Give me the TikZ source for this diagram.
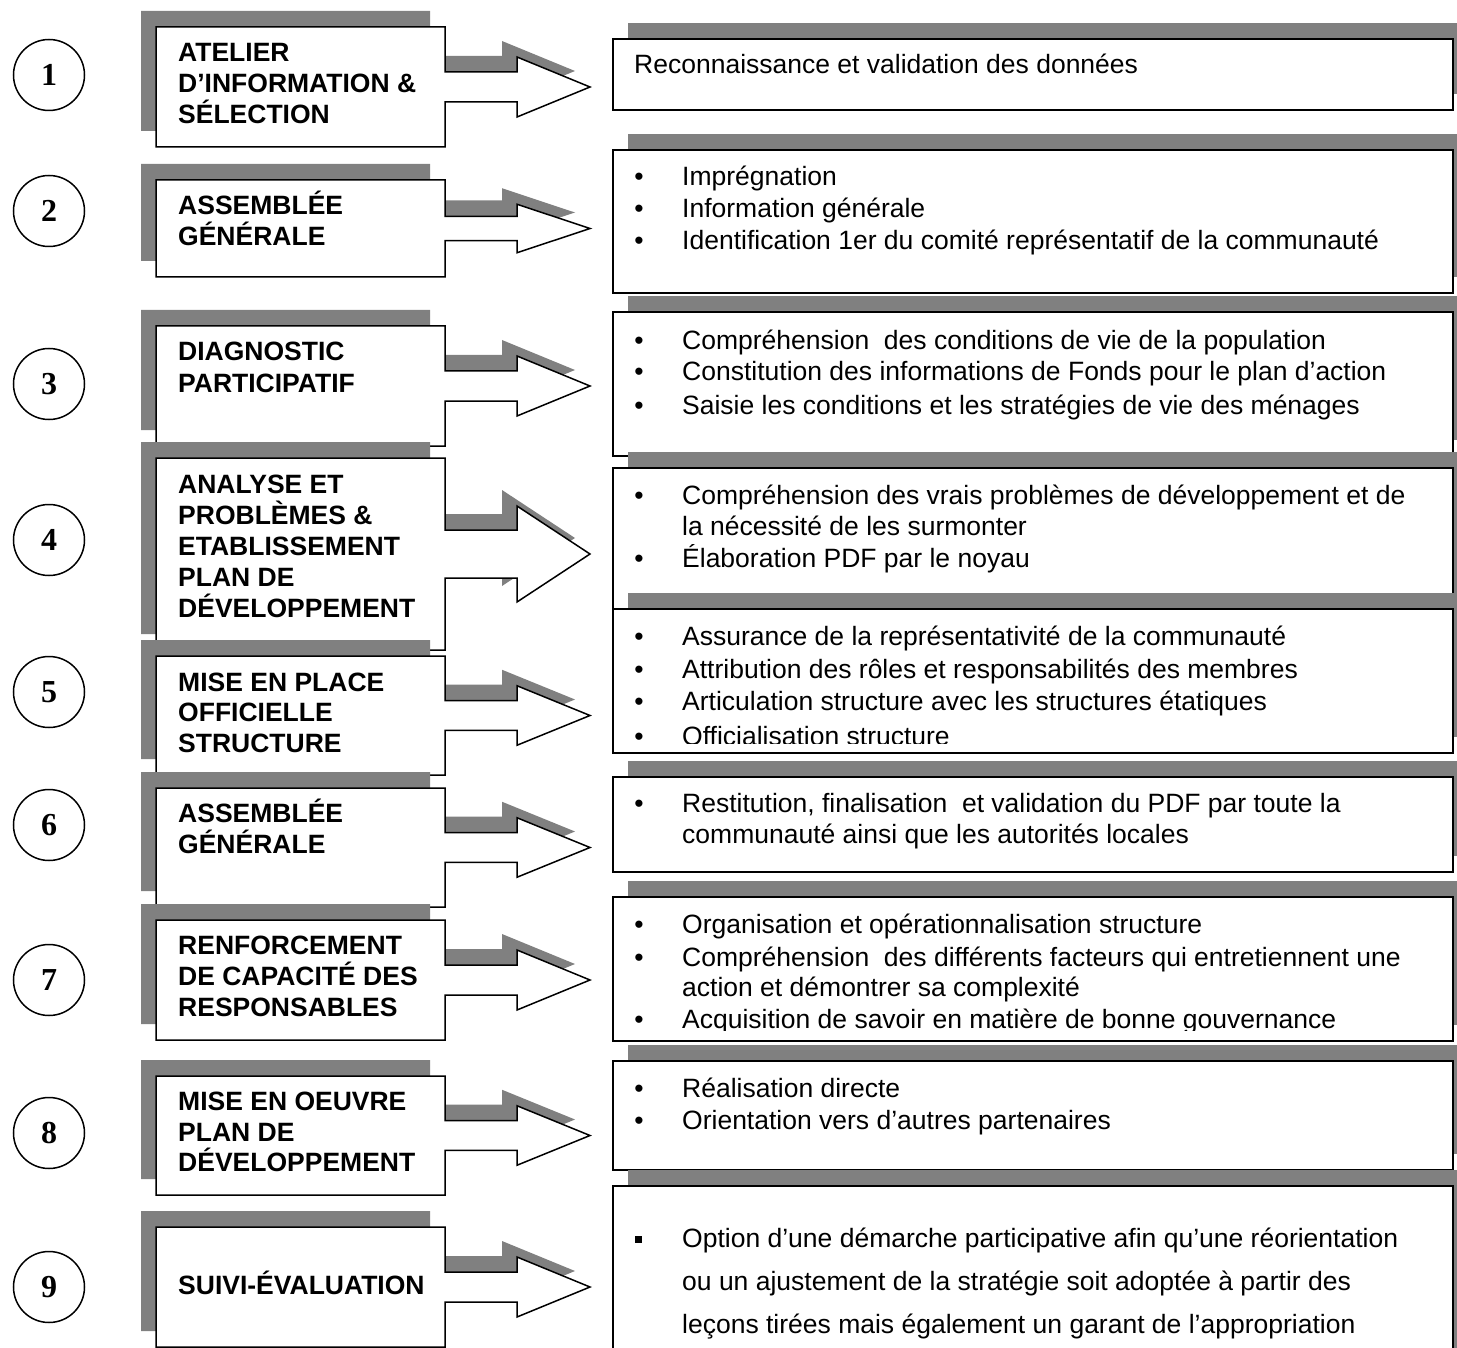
\documentclass[tikz,border=0pt]{standalone}
\usepackage{fontspec}
\setmainfont{Liberation Sans}
\newfontfamily\numfont{Liberation Serif}
\definecolor{shadowgray}{RGB}{128,128,128}
\tikzset{
  shadefill/.style={fill=shadowgray,draw=none},
  whitebox/.style={fill=white,draw=black,line width=1.5pt,line join=miter},
  ltxt/.style={anchor=base west,inner sep=0pt,font=\bfseries\fontsize{26.5}{31}\selectfont},
  rtxt/.style={anchor=base west,inner sep=0pt,font=\fontsize{26.5}{32}\selectfont},
  bul/.style={anchor=base,inner sep=0pt,font=\fontsize{26.5}{32}\selectfont},
  numc/.style={circle,draw=black,line width=1.5pt,minimum size=71pt,inner sep=0pt,
    font=\numfont\bfseries\fontsize{32}{32}\selectfont}
}
\newcommand\myLshape[2]{%
  \pgfmathsetmacro\Lm{#1+#2/2}%
  \pgfmathsetmacro\La{\Lm-#2/8}%
  \pgfmathsetmacro\Lb{\Lm+#2/8}%
  \pgfmathsetmacro\Lc{\Lm-#2/4}%
  \pgfmathsetmacro\Ld{\Lm+#2/4}%
  \pgfmathsetmacro\Le{#1+#2}%
  \path[shadefill,shift={(-15,-16)}] (156,#1) -- (445,#1) -- (445,\La) -- (517,\La) -- (517,\Lc) -- (590,\Lm) -- (517,\Ld) -- (517,\Lb) -- (445,\Lb) -- (445,\Le) -- (156,\Le) -- cycle;
  \path[whitebox] (156,#1) -- (445,#1) -- (445,\La) -- (517,\La) -- (517,\Lc) -- (590,\Lm) -- (517,\Ld) -- (517,\Lb) -- (445,\Lb) -- (445,\Le) -- (156,\Le) -- cycle;
}
\newcommand\myRbox[2]{%
  \pgfmathsetmacro\Ra{#1-16}%
  \pgfmathsetmacro\Rb{#2-16}%
  \path[shadefill] (628,\Ra) rectangle (1468,\Rb);
  \path[whitebox] (613,#1) rectangle (1453,#2);
}
\begin{document}
\begin{tikzpicture}[x=1pt,y=-1pt]
\useasboundingbox (0,0) rectangle (1457,1348);
\clip (0,0) rectangle (1457,1348);
\fill[white] (0,0) rectangle (1457,1348);

% ---------- numbered circles ----------
\node[numc] (c1) at (49,75) {1};
\node[numc] (c2) at (49,211) {2};
\node[numc] (c3) at (49,384) {3};
\node[numc] (c4) at (49,540) {4};
\node[numc] (c5) at (49,692) {5};
\node[numc] (c6) at (49,825) {6};
\node[numc] (c7) at (49,980) {7};
\node[numc] (c8) at (49,1133) {8};
\node[numc] (c9) at (49,1287) {9};

% ---------- left step shapes ----------
\myLshape{27}{120}
\node[ltxt] (l1a) at (178,62) {ATELIER};
\node[ltxt] (l1b) at (178,93) {D’INFORMATION \&};
\node[ltxt] (l1c) at (178,124) {SÉLECTION};

\myLshape{180}{97}
\node[ltxt] (l2a) at (178,215) {ASSEMBLÉE};
\node[ltxt] (l2b) at (178,246) {GÉNÉRALE};

\myLshape{326}{120}
\node[ltxt] (l3a) at (178,361) {DIAGNOSTIC};
\node[ltxt] (l3b) at (178,392) {PARTICIPATIF};

\myLshape{458}{192}
\node[ltxt] (l4a) at (178,493) {ANALYSE ET};
\node[ltxt] (l4b) at (178,524) {PROBLÈMES \&};
\node[ltxt] (l4c) at (178,555) {ETABLISSEMENT};
\node[ltxt] (l4d) at (178,586) {PLAN DE};
\node[ltxt] (l4e) at (178,617) {DÉVELOPPEMENT};

\myLshape{656}{119}
\node[ltxt] (l5a) at (178,691) {MISE EN PLACE};
\node[ltxt] (l5b) at (178,721.5) {OFFICIELLE};
\node[ltxt] (l5c) at (178,752) {STRUCTURE};

\myLshape{788}{119}
\node[ltxt] (l6a) at (178,822.5) {ASSEMBLÉE};
\node[ltxt] (l6b) at (178,853) {GÉNÉRALE};

\myLshape{920}{120}
\node[ltxt] (l7a) at (178,954.5) {RENFORCEMENT};
\node[ltxt] (l7b) at (178,985.5) {DE CAPACITÉ DES};
\node[ltxt] (l7c) at (178,1016.5) {RESPONSABLES};

\myLshape{1076}{119}
\node[ltxt] (l8a) at (178,1110.5) {MISE EN OEUVRE};
\node[ltxt] (l8b) at (178,1141.5) {PLAN DE};
\node[ltxt] (l8c) at (178,1171.5) {DÉVELOPPEMENT};

\myLshape{1227}{120}
\node[ltxt] (l9a) at (178,1294.5) {SUIVI-ÉVALUATION};

% ---------- right boxes ----------
\myRbox{39}{110}
\node[rtxt] (r1a) at (634,74) {Reconnaissance et validation des données};

\myRbox{150}{293}
\node[bul] (r2ab) at (639,186) {•};
\node[rtxt] (r2a) at (682,186) {Imprégnation};
\node[bul] (r2bb) at (639,218) {•};
\node[rtxt] (r2b) at (682,218) {Information générale};
\node[bul] (r2cb) at (639,250) {•};
\node[rtxt] (r2c) at (682,250) {Identification 1er du comité représentatif de la communauté};

\myRbox{312}{456}
\node[bul] (r3ab) at (639,349) {•};
\node[rtxt] (r3a) at (682,349) {Compréhension \ des conditions de vie de la population};
\node[bul] (r3bb) at (639,381) {•};
\node[rtxt] (r3b) at (682,381) {Constitution des informations de Fonds pour le plan d’action};
\node[bul] (r3cb) at (639,414) {•};
\node[rtxt] (r3c) at (682,414) {Saisie les conditions et les stratégies de vie des ménages};

\myRbox{468}{609}
\node[bul] (r4ab) at (639,504) {•};
\node[rtxt] (r4a) at (682,504) {Compréhension des vrais problèmes de développement et de};
\node[rtxt] (r4b) at (682,535) {la nécessité de les surmonter};
\node[bul] (r4cb) at (639,567) {•};
\node[rtxt] (r4c) at (682,567) {Élaboration PDF par le noyau};

\myRbox{609}{753}
\begin{scope}
\clip (613,609) rectangle (1453,743);
\node[bul] (r5ab) at (639,645) {•};
\node[rtxt] (r5a) at (682,645) {Assurance de la représentativité de la communauté};
\node[bul] (r5bb) at (639,678) {•};
\node[rtxt] (r5b) at (682,678) {Attribution des rôles et responsabilités des membres};
\node[bul] (r5cb) at (639,710) {•};
\node[rtxt] (r5c) at (682,710) {Articulation structure avec les structures étatiques};
\node[bul] (r5db) at (639,745) {•};
\node[rtxt] (r5d) at (682,745) {Officialisation structure};
\end{scope}

\myRbox{777}{872}
\node[bul] (r6ab) at (639,812) {•};
\node[rtxt] (r6a) at (682,812) {Restitution, finalisation \ et validation du PDF par toute la};
\node[rtxt] (r6b) at (682,843) {communauté ainsi que les autorités locales};

\myRbox{897}{1041}
\begin{scope}
\clip (613,897) rectangle (1453,1030);
\node[bul] (r7ab) at (639,933) {•};
\node[rtxt] (r7a) at (682,933) {Organisation et opérationnalisation structure};
\node[bul] (r7bb) at (639,966) {•};
\node[rtxt] (r7b) at (682,966) {Compréhension \ des différents facteurs qui entretiennent une};
\node[rtxt] (r7c) at (682,996) {action et démontrer sa complexité};
\node[bul] (r7db) at (639,1028) {•};
\node[rtxt] (r7d) at (682,1028) {Acquisition de savoir en matière de bonne gouvernance};
\end{scope}

\myRbox{1061}{1170}
\node[bul] (r8ab) at (639,1097) {•};
\node[rtxt] (r8a) at (682,1097) {Réalisation directe};
\node[bul] (r8bb) at (639,1129) {•};
\node[rtxt] (r8b) at (682,1129) {Orientation vers d’autres partenaires};

\myRbox{1186}{1380}
\fill[black] (634.5,1235.5) rectangle (641.5,1242.5);
\node[rtxt] (r9a) at (682,1247) {Option d’une démarche participative afin qu’une réorientation};
\node[rtxt] (r9b) at (682,1290) {ou un ajustement de la stratégie soit adoptée à partir des};
\node[rtxt] (r9c) at (682,1333) {leçons tirées mais également un garant de l’appropriation};
\end{tikzpicture}
\end{document}
